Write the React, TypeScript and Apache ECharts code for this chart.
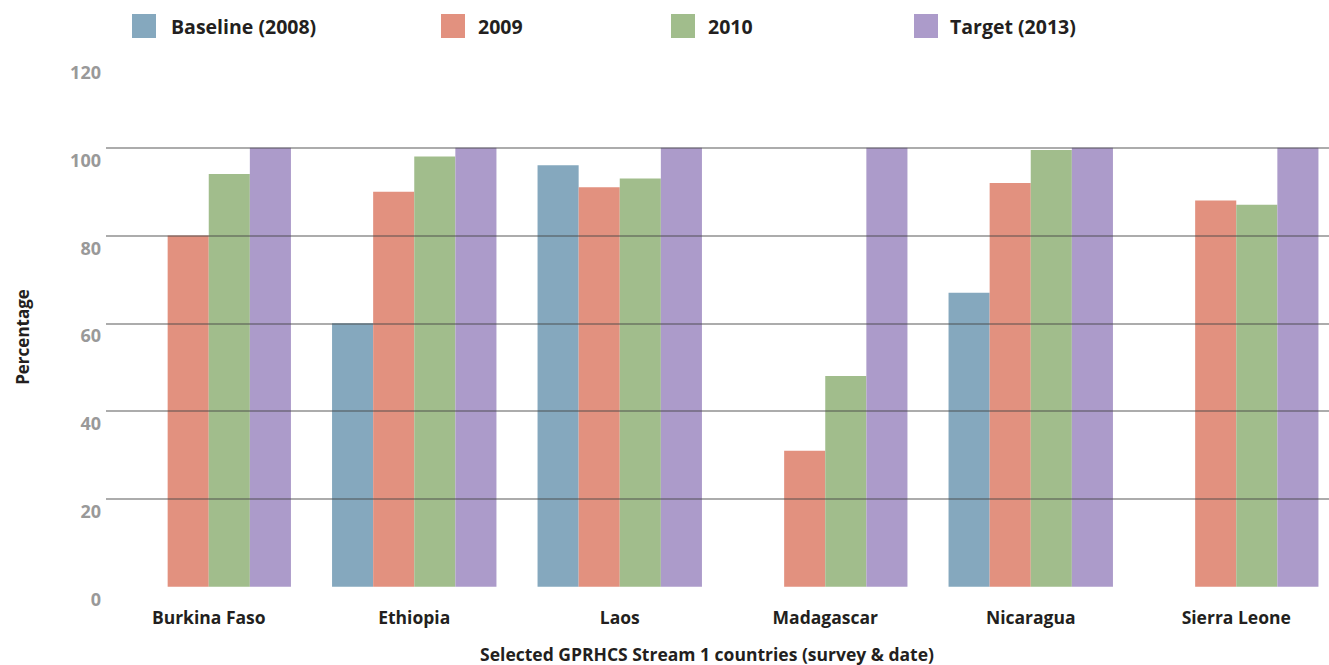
import React, { useEffect, useRef } from "react";
import * as echarts from "echarts";

const categories = ["Burkina Faso", "Ethiopia", "Laos", "Madagascar", "Nicaragua", "Sierra Leone"];
const seriesNames = ["Baseline (2008)", "2009", "2010", "Target (2013)"];
const baseline2008 = [null, 60, 96, null, 67, null];
const values2009 = [80, 90, 91, 31, 92, 88];
const values2010 = [94, 98, 93, 48, 99.5, 87];
const target2013 = [100, 100, 100, 100, 100, 100];
const colors = ["#85a8be", "#e2917f", "#a1bd8c", "#ac9bca"];
const legendLefts = [132, 441, 671, 914];
const legendPads = [10, 8, 8, 7];

const FONT = "'Open Sans', 'Noto Sans', sans-serif";

export default function App() {
  const ref = useRef<HTMLDivElement>(null);
  useEffect(() => {
    if (!ref.current) return;
    const chart = echarts.init(ref.current, null, { renderer: "svg" });
    const data = [baseline2008, values2009, values2010, target2013];
    const gl = "rgba(70,70,70,0.6)";
    chart.setOption({
      animation: false,
      backgroundColor: "#ffffff",
      textStyle: { fontFamily: FONT },
      legend: seriesNames.map((n, i) => ({
        data: [n],
        left: legendLefts[i],
        top: 14,
        itemWidth: 24,
        itemHeight: 24,
        icon: "rect",
        selectedMode: false,
        padding: 0,
        textStyle: {
          fontFamily: FONT,
          fontSize: 19.5,
          fontWeight: "bold",
          color: "#231f20",
          padding: [0, 0, 0, legendPads[i]],
        },
      })),
      grid: {
        left: 106,
        width: 1233,
        top: 60,
        bottom: 78.3,
        containLabel: false,
        outerBoundsMode: "none",
      },
      xAxis: {
        type: "category",
        data: categories,
        axisLine: { show: false },
        axisTick: { show: false },
        axisLabel: {
          margin: 21,
          fontFamily: FONT,
          fontSize: 17.5,
          fontWeight: "bold",
          color: "#231f20",
        },
      },
      yAxis: {
        type: "value",
        min: 0,
        max: 120,
        interval: 20,
        z: 5,
        axisLine: { show: false },
        axisTick: { show: false },
        splitLine: {
          show: true,
          lineStyle: {
            color: ["transparent", gl, gl, gl, gl, gl, "transparent"],
            width: 1.5,
          },
        },
        axisLabel: {
          margin: 5,
          fontFamily: FONT,
          fontSize: 18,
          fontWeight: "bold",
          color: "#999999",
          verticalAlign: "top",
          lineHeight: 24,
        },
      },
      series: seriesNames.map((n, i) => ({
        name: n,
        type: "bar",
        data: data[i],
        barGap: "0%",
        barCategoryGap: "20%",
        itemStyle: { color: colors[i] },
      })),
      graphic: [
        {
          type: "text",
          x: 707,
          y: 654,
          style: {
            text: "Selected GPRHCS Stream 1 countries (survey & date)",
            fontFamily: FONT,
            fontSize: 17.5,
            fontWeight: "bold",
            fill: "#231f20",
            textAlign: "center",
            textVerticalAlign: "middle",
          },
        },
        {
          type: "text",
          x: 22,
          y: 337,
          rotation: Math.PI / 2,
          style: {
            text: "Percentage",
            fontFamily: FONT,
            fontSize: 17,
            fontWeight: "bold",
            fill: "#231f20",
            textAlign: "center",
            textVerticalAlign: "middle",
          },
        },
      ],
    });
    return () => chart.dispose();
  }, []);
  return (
    <div
      ref={ref}
      style={{ position: "fixed", left: 0, top: 0, width: 1329, height: 665 }}
    />
  );
}
